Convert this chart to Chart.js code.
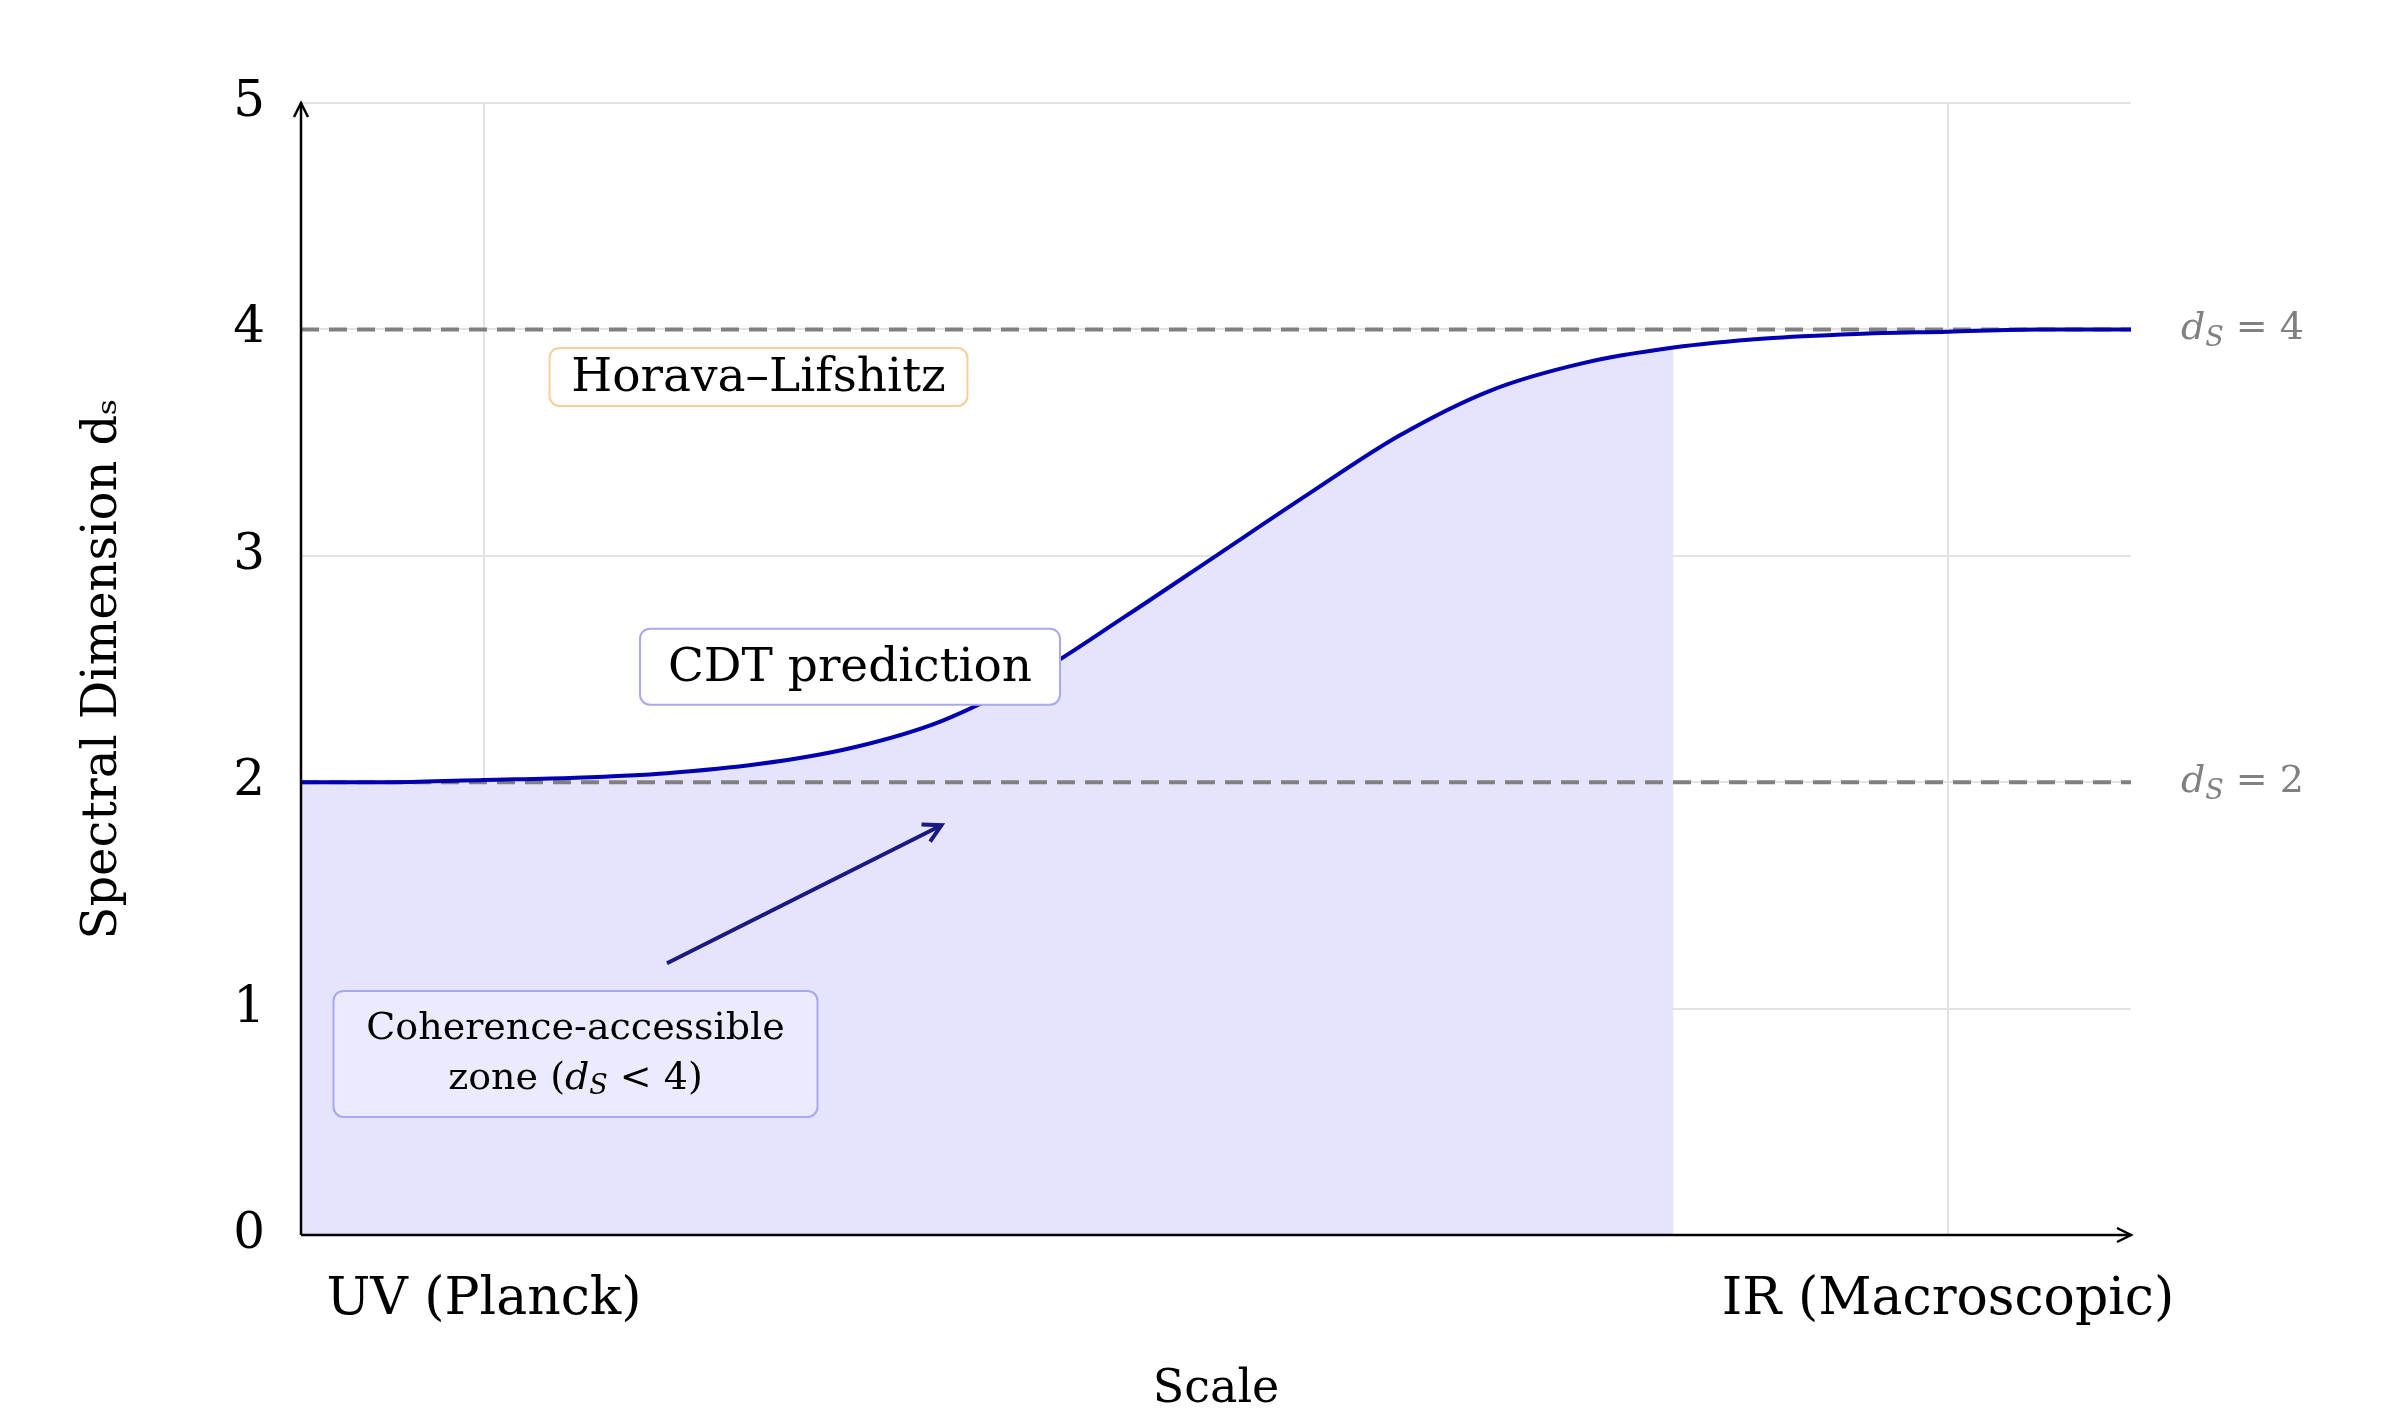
<!DOCTYPE html>
<html><head><meta charset="utf-8">
<script src="https://cdn.jsdelivr.net/npm/chart.js@4"></script>
<style>html,body{margin:0;padding:0;background:#fff}canvas{display:block}</style>
</head><body>
<div style="width:2400px;height:1422px"><canvas id="c" width="2400" height="1422"></canvas></div>
<script>
const xValues = [0,0.5,1,1.5,2,2.5,3,3.5,4,4.5,5,5.5,6,6.5,7,7.5,8,8.5,9,9.5,10];
const dsValues = [2.00,2.00,2.01,2.02,2.04,2.08,2.15,2.27,2.47,2.73,3.00,3.27,3.53,3.73,3.85,3.92,3.96,3.98,3.99,4.00,4.00];
const fillEnd = 7.5;
const yTicks = [0,1,2,3,4,5];
const xTickLabels = {1:'UV (Planck)', 9:'IR (Macroscopic)'};
const refLines = [2,4];
const FONT = '"DejaVu Serif", "Liberation Serif", serif';

const curve = xValues.map((x,i)=>({x, y:dsValues[i]}));
const fillData = curve.filter(p=>p.x<=fillEnd);

const overlay = {
  id:'overlay',
  afterDatasetDraw(chart, args){
    if (args.index !== 0) return;
    const {ctx, scales:{x,y}} = chart;
    ctx.save();
    ctx.strokeStyle='#808080'; ctx.lineWidth=4; ctx.setLineDash([18,10]);
    refLines.forEach(v=>{ctx.beginPath();ctx.moveTo(x.getPixelForValue(0),y.getPixelForValue(v));ctx.lineTo(x.getPixelForValue(10),y.getPixelForValue(v));ctx.stroke();});
    ctx.restore();
  },
  afterDatasetsDraw(chart){
    const {ctx, scales:{x,y}} = chart;
    ctx.save();
    const x0=x.getPixelForValue(0), x1=x.getPixelForValue(10), y0=y.getPixelForValue(0), y1=y.getPixelForValue(5);
    ctx.strokeStyle='#000'; ctx.lineWidth=2.5; ctx.setLineDash([]);
    ctx.beginPath(); ctx.moveTo(x0,y0); ctx.lineTo(x0,y1); ctx.moveTo(x0,y0); ctx.lineTo(x1,y0); ctx.stroke();
    ctx.beginPath(); ctx.moveTo(x0-7,y1+14); ctx.lineTo(x0,y1); ctx.lineTo(x0+7,y1+14); ctx.stroke();
    ctx.beginPath(); ctx.moveTo(x1-14,y0-7); ctx.lineTo(x1,y0); ctx.lineTo(x1-14,y0+7); ctx.stroke();
    ctx.fillStyle='#808080'; ctx.textBaseline='middle'; ctx.textAlign='left';
    refLines.forEach(v=>{
      const py=y.getPixelForValue(v); let px=2181;
      ctx.font='italic 38px '+FONT; ctx.fillText('d',px,py); px+=ctx.measureText('d').width;
      ctx.font='italic 27px '+FONT; ctx.fillText('S',px,py+10); px+=ctx.measureText('S').width+12;
      ctx.font='38px '+FONT; ctx.fillText('= '+v,px,py);
    });
    function box(cx,cy,w,h,stroke,fill){
      const px=x.getPixelForValue(cx), py=y.getPixelForValue(cy);
      ctx.beginPath(); ctx.roundRect(px-w/2,py-h/2,w,h,10);
      ctx.fillStyle=fill; ctx.fill(); ctx.strokeStyle=stroke; ctx.lineWidth=2; ctx.stroke();
      return [px,py];
    }
    ctx.textAlign='center'; ctx.textBaseline='middle';
    let [p,q]=box(2.5,3.79,418,58,'#f6cf9a','#ffffff');
    ctx.fillStyle='#000'; ctx.font='47px '+FONT; ctx.fillText('Horava–Lifshitz',p,q+2);
    [p,q]=box(3.0,2.51,420,76,'#a8a8f0','#ffffff');
    ctx.fillStyle='#000'; ctx.fillText('CDT prediction',p,q+2);
    [p,q]=box(1.5,0.80,484,126,'#a8a8f0','rgba(240,240,255,0.6)');
    ctx.fillStyle='#000'; ctx.font='38px '+FONT; ctx.fillText('Coherence-accessible',p,q-25);
    ctx.textAlign='left';
    const parts=[['zone (','38px '],['d','italic 38px '],['S','italic 27px '],[' < 4)','38px ']];
    let tw=0; parts.forEach(([t,f])=>{ctx.font=f+FONT; tw+=ctx.measureText(t).width;});
    let sx=p-tw/2;
    parts.forEach(([t,f])=>{ctx.font=f+FONT; ctx.fillText(t,sx,q+25+(t==='S'?8:0)); sx+=ctx.measureText(t).width;});
    const ax=x.getPixelForValue(2.0), ay=y.getPixelForValue(1.2), bx=x.getPixelForValue(3.5), by=y.getPixelForValue(1.81);
    ctx.strokeStyle='#1a1a80'; ctx.lineWidth=4;
    ctx.beginPath(); ctx.moveTo(ax,ay); ctx.lineTo(bx,by); ctx.stroke();
    const ang=Math.atan2(by-ay,bx-ax);
    ctx.beginPath();
    ctx.moveTo(bx-20*Math.cos(ang-0.5),by-20*Math.sin(ang-0.5)); ctx.lineTo(bx,by);
    ctx.lineTo(bx-20*Math.cos(ang+0.5),by-20*Math.sin(ang+0.5)); ctx.stroke();
    ctx.restore();
  }
};

new Chart(document.getElementById('c'),{
  type:'line',
  data:{datasets:[
    {data:fillData, order:2, borderWidth:0, borderColor:'rgba(0,0,0,0)', pointRadius:0, fill:'origin', backgroundColor:'#e6e4fc', cubicInterpolationMode:'monotone'},
    {data:curve, order:1, borderColor:'#0000b0', borderWidth:4, pointRadius:0, fill:false, cubicInterpolationMode:'monotone'}
  ]},
  options:{
    responsive:false, animation:false, devicePixelRatio:1,
    layout:{padding:{left:0,top:103,right:269,bottom:0}},
    plugins:{legend:{display:false},tooltip:{enabled:false}},
    scales:{
      x:{type:'linear',min:0,max:10,
        afterFit(s){s.height=187;},
        afterBuildTicks(s){s.ticks=[{value:1},{value:9}];},
        border:{display:false},
        grid:{color:'#e2e2e2',lineWidth:2,drawTicks:false},
        ticks:{autoSkip:false,maxRotation:0,padding:34,color:'#000',font:{family:FONT,size:52},callback:v=>xTickLabels[v]||''},
        title:{display:true,text:'Scale',color:'#000',font:{family:FONT,size:46},padding:{top:-85}}
      },
      y:{min:0,max:5,
        afterFit(s){s.width=301;},
        afterBuildTicks(s){s.ticks=yTicks.map(v=>({value:v}));},
        border:{display:false},
        grid:{color:c=>c.tick&&c.tick.value===0?'rgba(0,0,0,0)':'#e2e2e2',lineWidth:2,drawTicks:false},
        ticks:{padding:36,color:'#000',font:{family:FONT,size:50}},
        title:{display:true,text:'Spectral Dimension d\u209B',color:'#000',font:{family:FONT,size:48},padding:{top:75,bottom:0}}
      }
    }
  },
  plugins:[overlay]
});
</script>
</body></html>
